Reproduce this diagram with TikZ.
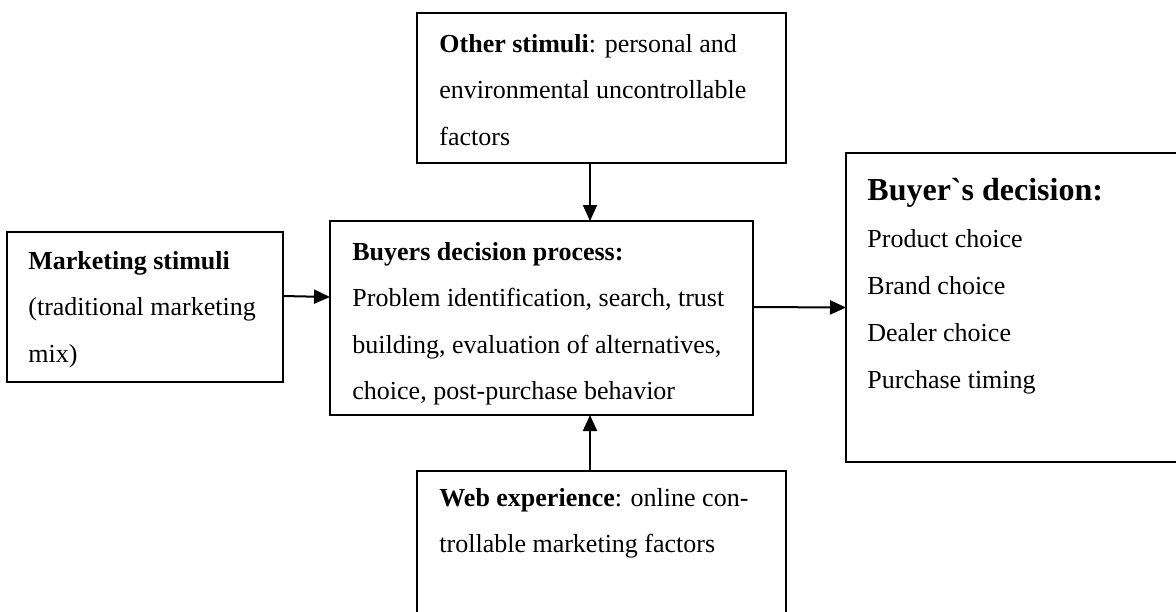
\documentclass[tikz,border=0pt]{standalone}
\usepackage{fontspec}
\setmainfont{Liberation Serif}
\usetikzlibrary{arrows.meta, positioning}

\begin{document}
\begin{tikzpicture}[x=0.5pt, y=-0.5pt]
    \tikzstyle{frame} = [rectangle, draw=black, line width=1pt, inner sep=0pt, outer sep=0pt]
    \tikzstyle{boxtext} = [anchor=north west, align=left, inner sep=0pt, font=\fontsize{13}{23.25}\selectfont]
    \tikzstyle{arrow} = [line width=1pt, -{Triangle[length=8pt, width=7pt]}]

    \useasboundingbox (0,0) rectangle (1176,611);
    \clip (0,0) rectangle (1176,611);

    \node (other) [frame, minimum width=184.5pt, minimum height=75pt] at (601.5,88) {};
    \node (market) [frame, minimum width=138pt, minimum height=75pt] at (145,307) {};
    \node (process) [frame, minimum width=211.5pt, minimum height=97pt] at (541.5,318) {};
    \node (decision) [frame, minimum width=172pt, minimum height=154.5pt] at (1018,307.5) {};
    \node (web) [frame, minimum width=184.5pt, minimum height=84.5pt] at (601.5,555.5) {};

    \node (othertext) [boxtext] at ([shift={(22,21)}]other.north west)
        {\textbf{Other stimuli}: personal and\\environmental uncontrollable\\factors};
    \node (markettext) [boxtext] at ([shift={(21,19)}]market.north west)
        {\textbf{Marketing stimuli}\\(traditional marketing\\mix)};
    \node (processtext) [boxtext] at ([shift={(22,21)}]process.north west)
        {\textbf{Buyers decision process:}\\Problem identification, search, trust\\building, evaluation of alternatives,\\choice, post-purchase behavior};
    \node (decisionhead) [boxtext, font=\fontsize{16}{20}\selectfont\bfseries] at ([shift={(21,25)}]decision.north west)
        {Buyer\textasciigrave s decision:};
    \node (decisiontext) [boxtext, font=\fontsize{13}{23.5}\selectfont] at ([shift={(21,76)}]decision.north west)
        {Product choice\\Brand choice\\Dealer choice\\Purchase timing};
    \node (webtext) [boxtext] at ([shift={(22,17)}]web.north west)
        {\textbf{Web experience}: online con-\\trollable marketing factors};

    \draw [arrow] ([xshift=-5.75pt]other.south) -- ([xshift=-5.75pt]other.south |- process.north);
    \draw [arrow] ([yshift=5.5pt]market.east) -- ([yshift=10.5pt]process.west);
    \draw [arrow] ([yshift=5.5pt]process.east) -- (decision.west);
    \draw [arrow] ([xshift=-5.75pt]web.north) -- ([xshift=-5.75pt]web.north |- process.south);
\end{tikzpicture}
\end{document}
